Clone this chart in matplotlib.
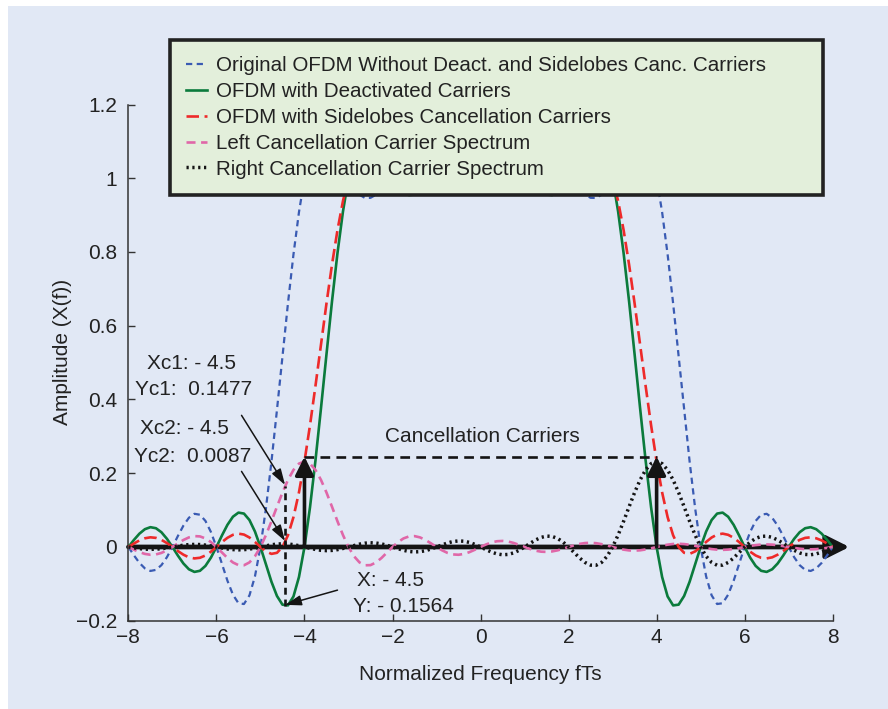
import numpy as np
import matplotlib
matplotlib.use('Agg')
import matplotlib.pyplot as plt
from matplotlib.patches import Rectangle

plt.rcParams['font.family'] = ['Liberation Sans', 'DejaVu Sans']
plt.rcParams['lines.scale_dashes'] = False

# ---------------- data ----------------
freq = np.linspace(-8, 8, 129)   # normalized frequency fTs, step 0.125

original = [
    0.0, -0.0226, -0.0431, -0.0581, -0.0650, -0.0621, -0.0493, -0.0277,
    0.0, 0.0300, 0.0580, 0.0793, 0.0900, 0.0875, 0.0707, 0.0406,
    0.0, -0.0461, -0.0916, -0.1294, -0.1525, -0.1547, -0.1313, -0.0797,
    0.0, 0.1054, 0.2316, 0.3717, 0.5176, 0.6609, 0.7934, 0.9081,
    1.0, 1.0662, 1.1062, 1.1218, 1.1168, 1.0963, 1.0662, 1.0323,
    1.0, 0.9734, 0.9552, 0.9465, 0.9470, 0.9552, 0.9686, 0.9845,
    1.0, 1.0130, 1.0219, 1.0259, 1.0254, 1.0211, 1.0145, 1.0069,
    1.0, 0.9947, 0.9917, 0.9911, 0.9923, 0.9947, 0.9973, 0.9993,
    1.0, 0.9993, 0.9973, 0.9947, 0.9923, 0.9911, 0.9917, 0.9947,
    1.0, 1.0069, 1.0145, 1.0211, 1.0254, 1.0259, 1.0219, 1.0130,
    1.0, 0.9845, 0.9686, 0.9552, 0.9470, 0.9465, 0.9552, 0.9734,
    1.0, 1.0323, 1.0662, 1.0963, 1.1168, 1.1218, 1.1062, 1.0662,
    1.0, 0.9081, 0.7934, 0.6609, 0.5176, 0.3717, 0.2316, 0.1054,
    0.0, -0.0797, -0.1313, -0.1547, -0.1525, -0.1294, -0.0916, -0.0461,
    0.0, 0.0406, 0.0707, 0.0875, 0.0900, 0.0793, 0.0580, 0.0300,
    0.0, -0.0277, -0.0493, -0.0621, -0.0650, -0.0581, -0.0431, -0.0226,
    0.0]

deactivated = [
    0.0, 0.0191, 0.0361, 0.0483, 0.0537, 0.0509, 0.0400, 0.0222,
    0.0, -0.0235, -0.0448, -0.0605, -0.0676, -0.0646, -0.0513, -0.0288,
    0.0, 0.0312, 0.0601, 0.0821, 0.0932, 0.0906, 0.0731, 0.0419,
    0.0, -0.0475, -0.0943, -0.1329, -0.1564, -0.1584, -0.1342, -0.0814,
    0.0, 0.1072, 0.2349, 0.3762, 0.5226, 0.6657, 0.7971, 0.9102,
    1.0, 1.0639, 1.1019, 1.1160, 1.1103, 1.0901, 1.0612, 1.0295,
    1.0, 0.9764, 0.9610, 0.9544, 0.9559, 0.9638, 0.9755, 0.9883,
    1.0, 1.0087, 1.0136, 1.0146, 1.0125, 1.0086, 1.0044, 1.0012,
    1.0, 1.0012, 1.0044, 1.0086, 1.0125, 1.0146, 1.0136, 1.0087,
    1.0, 0.9883, 0.9755, 0.9638, 0.9559, 0.9544, 0.9610, 0.9764,
    1.0, 1.0295, 1.0612, 1.0901, 1.1103, 1.1160, 1.1019, 1.0639,
    1.0, 0.9102, 0.7971, 0.6657, 0.5226, 0.3762, 0.2349, 0.1072,
    0.0, -0.0814, -0.1342, -0.1584, -0.1564, -0.1329, -0.0943, -0.0475,
    0.0, 0.0419, 0.0731, 0.0906, 0.0932, 0.0821, 0.0601, 0.0312,
    0.0, -0.0288, -0.0513, -0.0646, -0.0676, -0.0605, -0.0448, -0.0235,
    0.0, 0.0222, 0.0400, 0.0509, 0.0537, 0.0483, 0.0361, 0.0191,
    0.0]

cancelled = [
    0.0, 0.0094, 0.0178, 0.0236, 0.0262, 0.0247, 0.0193, 0.0106,
    0.0, -0.0111, -0.0209, -0.0281, -0.0310, -0.0293, -0.0230, -0.0127,
    0.0, 0.0133, 0.0249, 0.0330, 0.0362, 0.0337, 0.0257, 0.0137,
    0.0, -0.0120, -0.0187, -0.0158, 0.0, 0.0317, 0.0810, 0.1482,
    0.232, 0.3297, 0.4370, 0.5492, 0.6605, 0.7656, 0.8595, 0.9385,
    1.0, 1.0429, 1.0679, 1.0767, 1.0724, 1.0588, 1.0397, 1.0190,
    1.0, 0.9849, 0.9751, 0.9710, 0.9720, 0.9771, 0.9845, 0.9926,
    1.0, 1.0055, 1.0085, 1.0091, 1.0078, 1.0054, 1.0028, 1.0008,
    1.0, 1.0008, 1.0028, 1.0054, 1.0078, 1.0091, 1.0085, 1.0055,
    1.0, 0.9926, 0.9845, 0.9771, 0.9720, 0.9710, 0.9751, 0.9849,
    1.0, 1.0190, 1.0397, 1.0588, 1.0724, 1.0767, 1.0679, 1.0429,
    1.0, 0.9385, 0.8595, 0.7656, 0.6605, 0.5492, 0.4370, 0.3297,
    0.232, 0.1482, 0.0810, 0.0317, 0.0, -0.0158, -0.0187, -0.0120,
    0.0, 0.0137, 0.0257, 0.0337, 0.0362, 0.0330, 0.0249, 0.0133,
    0.0, -0.0127, -0.0230, -0.0293, -0.0310, -0.0281, -0.0209, -0.0111,
    0.0, 0.0106, 0.0193, 0.0247, 0.0262, 0.0236, 0.0178, 0.0094,
    0.0]

left_cc = [
    0.0, -0.0073, -0.0139, -0.0188, -0.0211, -0.0202, -0.0161, -0.0090,
    0.0, 0.0098, 0.0190, 0.0260, 0.0295, 0.0287, 0.0232, 0.0133,
    0.0, -0.0151, -0.0298, -0.0420, -0.0492, -0.0496, -0.0418, -0.0251,
    0.0, 0.0323, 0.0696, 0.1092, 0.1477, 0.1819, 0.2089, 0.2261,
    0.232, 0.2261, 0.2089, 0.1819, 0.1477, 0.1092, 0.0696, 0.0323,
    0.0, -0.0251, -0.0418, -0.0496, -0.0492, -0.0420, -0.0298, -0.0151,
    0.0, 0.0133, 0.0232, 0.0287, 0.0295, 0.0260, 0.0190, 0.0098,
    0.0, -0.0090, -0.0161, -0.0202, -0.0211, -0.0188, -0.0139, -0.0073,
    0.0, 0.0069, 0.0123, 0.0156, 0.0164, 0.0148, 0.0110, 0.0058,
    0.0, -0.0055, -0.0100, -0.0127, -0.0134, -0.0121, -0.0091, -0.0048,
    0.0, 0.0046, 0.0084, 0.0107, 0.0114, 0.0103, 0.0077, 0.0041,
    0.0, -0.0040, -0.0072, -0.0093, -0.0099, -0.0090, -0.0067, -0.0036,
    0.0, 0.0035, 0.0063, 0.0082, 0.0087, 0.0079, 0.0060, 0.0032,
    0.0, -0.0031, -0.0057, -0.0073, -0.0078, -0.0071, -0.0054, -0.0029,
    0.0, 0.0028, 0.0051, 0.0066, 0.0070, 0.0064, 0.0049, 0.0026,
    0.0, -0.0025, -0.0046, -0.0060, -0.0064, -0.0059, -0.0044, -0.0024,
    0.0]

right_cc = [
    0.0, -0.0024, -0.0044, -0.0059, -0.0064, -0.0060, -0.0046, -0.0025,
    0.0, 0.0026, 0.0049, 0.0064, 0.0070, 0.0066, 0.0051, 0.0028,
    0.0, -0.0029, -0.0054, -0.0071, -0.0078, -0.0073, -0.0057, -0.0031,
    0.0, 0.0032, 0.0060, 0.0079, 0.0087, 0.0082, 0.0063, 0.0035,
    0.0, -0.0036, -0.0067, -0.0090, -0.0099, -0.0093, -0.0072, -0.0040,
    0.0, 0.0041, 0.0077, 0.0103, 0.0114, 0.0107, 0.0084, 0.0046,
    0.0, -0.0048, -0.0091, -0.0121, -0.0134, -0.0127, -0.0100, -0.0055,
    0.0, 0.0058, 0.0110, 0.0148, 0.0164, 0.0156, 0.0123, 0.0069,
    0.0, -0.0073, -0.0139, -0.0188, -0.0211, -0.0202, -0.0161, -0.0090,
    0.0, 0.0098, 0.0190, 0.0260, 0.0295, 0.0287, 0.0232, 0.0133,
    0.0, -0.0151, -0.0298, -0.0420, -0.0492, -0.0496, -0.0418, -0.0251,
    0.0, 0.0323, 0.0696, 0.1092, 0.1477, 0.1819, 0.2089, 0.2261,
    0.232, 0.2261, 0.2089, 0.1819, 0.1477, 0.1092, 0.0696, 0.0323,
    0.0, -0.0251, -0.0418, -0.0496, -0.0492, -0.0420, -0.0298, -0.0151,
    0.0, 0.0133, 0.0232, 0.0287, 0.0295, 0.0260, 0.0190, 0.0098,
    0.0, -0.0090, -0.0161, -0.0202, -0.0211, -0.0188, -0.0139, -0.0073,
    0.0]

series_labels = [
    'Original OFDM Without Deact. and Sidelobes Canc. Carriers',
    'OFDM with Deactivated Carriers',
    'OFDM with Sidelobes Cancellation Carriers',
    'Left Cancellation Carrier Spectrum',
    'Right Cancellation Carrier Spectrum',
]

xticks = [-8, -6, -4, -2, 0, 2, 4, 6, 8]
xtick_labels = ['\u22128', '\u22126', '\u22124', '\u22122', '0', '2', '4', '6', '8']
yticks = [-0.2, 0, 0.2, 0.4, 0.6, 0.8, 1.0, 1.2]
ytick_labels = ['\u22120.2', '0', '0.2', '0.4', '0.6', '0.8', '1', '1.2']

# annotation values
carrier_pos = [-4, 4]
carrier_arrow_top = 0.245
marker_x = -4.45
marker_y_low = -0.160
marker_y_high = 0.165

# ---------------- style ----------------
BG = '#e1e8f5'
LEG_BG = '#e3efdb'
BLUE = '#3a5bb3'
GREEN = '#0b7b3c'
RED = '#ee2a2a'
PINK = '#e067a8'
BLACK = '#141414'
FS = 15

fig = plt.figure(figsize=(8.88, 7.09), dpi=100, facecolor='white')
fig.add_artist(Rectangle((8 / 888, 0), 1, 703 / 709, transform=fig.transFigure,
                         facecolor=BG, edgecolor='none', zorder=-10))

ax = fig.add_axes([0.1446, 0.1245, 0.7931, 0.7281])
ax.set_facecolor(BG)

ax.plot(freq, original, color=BLUE, lw=1.6, dashes=(4.5, 3.2), label=series_labels[0], zorder=3)
ax.plot(freq, deactivated, color=GREEN, lw=1.9, label=series_labels[1], zorder=3)
ax.plot(freq, cancelled, color=RED, lw=1.9, dashes=(9, 4), label=series_labels[2], zorder=3)
ax.plot(freq, left_cc, color=PINK, lw=1.9, dashes=(6.5, 4), label=series_labels[3], zorder=3)
ax.plot(freq, right_cc, color=BLACK, lw=2.5, dashes=(1.6, 2.6), label=series_labels[4], zorder=3)

ax.set_xlim(-8, 8)
ax.set_ylim(-0.2, 1.2)
ax.set_xticks(xticks)
ax.set_xticklabels(xtick_labels)
ax.set_yticks(yticks)
ax.set_yticklabels(ytick_labels)
ax.tick_params(direction='in', length=5, width=1, color='#333333',
               labelsize=FS, labelcolor='#222222')
ax.tick_params(axis='y', pad=8)
ax.tick_params(axis='x', pad=5)
for s in ['top', 'right']:
    ax.spines[s].set_visible(False)
for s in ['left', 'bottom']:
    ax.spines[s].set_linewidth(1.1)
    ax.spines[s].set_color('#333333')

ax.set_xlabel('Normalized Frequency fTs', fontsize=FS, color='#222222')
ax.set_ylabel('Amplitude (X(f))', fontsize=FS, color='#222222')
ax.xaxis.set_label_coords(0.499, -0.085)
ax.yaxis.set_label_coords(-0.080, 0.52)

# thick frequency axis arrow
ax.annotate('', xy=(8.38, 0), xytext=(-8, 0), annotation_clip=False,
            arrowprops=dict(arrowstyle='-|>,head_length=0.7,head_width=0.35',
                            lw=3.4, color=BLACK, shrinkA=0, shrinkB=0,
                            mutation_scale=20), zorder=2)

# cancellation carrier arrows
for xc in carrier_pos:
    ax.annotate('', xy=(xc, carrier_arrow_top), xytext=(xc, 0),
                arrowprops=dict(arrowstyle='-|>,head_length=0.7,head_width=0.35',
                                lw=2.6, color=BLACK, shrinkA=0, shrinkB=0,
                                mutation_scale=16), zorder=4)
ax.plot(carrier_pos, [carrier_arrow_top - 0.002] * 2, color=BLACK, lw=1.9,
        dashes=(7, 4.5), zorder=4)
ax.text(0.05, 0.30, 'Cancellation Carriers', fontsize=FS, ha='center', va='center',
        color='#222222')

# marker at -4.5
ax.plot([marker_x, marker_x], [marker_y_low, marker_y_high], color=BLACK, lw=1.9,
        dashes=(5, 3.5), zorder=4)

thin = dict(arrowstyle='-|>,head_length=0.7,head_width=0.22', lw=1.1,
            color=BLACK, shrinkA=0, shrinkB=0, mutation_scale=14)
ax.annotate('', xy=(-4.44, 0.168), xytext=(-5.43, 0.357), arrowprops=thin, zorder=5)
ax.annotate('', xy=(-4.44, 0.016), xytext=(-5.43, 0.205), arrowprops=thin, zorder=5)
ax.annotate('', xy=(-4.44, -0.157), xytext=(-3.25, -0.117), arrowprops=thin, zorder=5)

ax.text(-6.57, 0.498, 'Xc1: - 4.5', fontsize=FS, ha='center', va='center', color='#222222')
ax.text(-6.51, 0.428, 'Yc1:  0.1477', fontsize=FS, ha='center', va='center', color='#222222')
ax.text(-6.72, 0.322, 'Xc2: - 4.5', fontsize=FS, ha='center', va='center', color='#222222')
ax.text(-6.54, 0.246, 'Yc2:  0.0087', fontsize=FS, ha='center', va='center', color='#222222')
ax.text(-2.04, -0.090, 'X: - 4.5', fontsize=FS, ha='center', va='center', color='#222222')
ax.text(-1.76, -0.161, 'Y: - 0.1564', fontsize=FS, ha='center', va='center', color='#222222')

leg = ax.legend(loc='upper left',
                bbox_to_anchor=(170 / 888, 1 - 40 / 709, (823 - 170) / 888, 0),
                bbox_transform=fig.transFigure, mode='expand', borderaxespad=0,
                fontsize=14.8, frameon=True, fancybox=False, framealpha=1,
                facecolor=LEG_BG, edgecolor='#222222', borderpad=0.8,
                labelspacing=0.33, handlelength=1.0, handletextpad=0.45)
leg.get_frame().set_linewidth(2.6)
leg.set_zorder(10)
for t in leg.get_texts():
    t.set_color('#222222')

fig.savefig('out.png', dpi=100, facecolor=fig.get_facecolor())
